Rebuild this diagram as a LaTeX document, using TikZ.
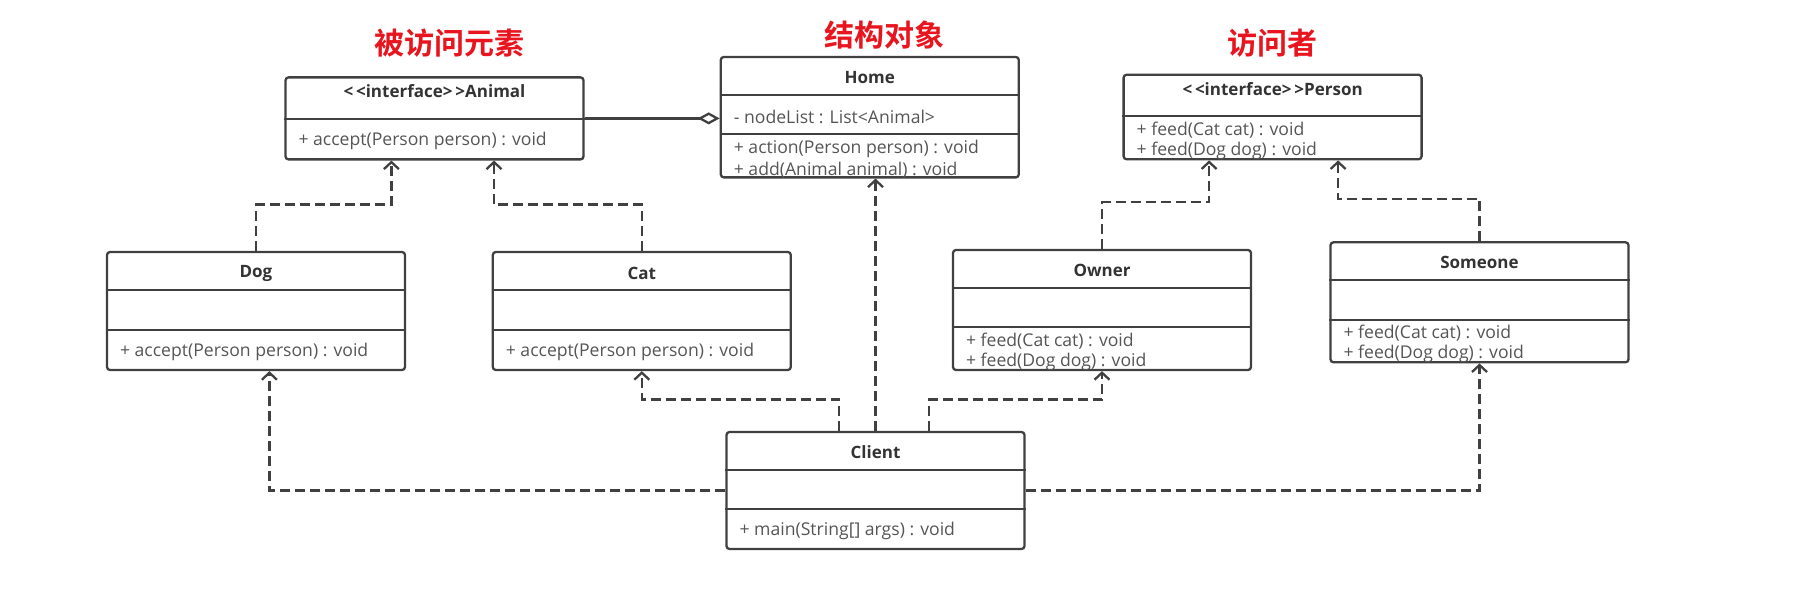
\documentclass[tikz,border=0pt]{standalone}
\usepackage{fontspec}
\setmainfont{Open Sans}
\newfontfamily\cjkfont[BoldFont={Noto Sans CJK SC Bold}]{Noto Sans CJK SC}
\usepackage{tikz}
\usetikzlibrary{arrows.meta}

\definecolor{umlline}{HTML}{404040}
\definecolor{umltext}{HTML}{555555}
\definecolor{umlhead}{HTML}{333333}
\definecolor{titlered}{HTML}{E8141E}

\tikzset{
	classbox/.style={draw=umlline, line width=2.3pt, rounded corners=3pt, minimum width=298pt, inner sep=0pt},
	sepline/.style={draw=umlline, line width=2pt},
	classname/.style={font=\fontsize{17}{20}\selectfont\bfseries, text=umlhead, inner sep=0pt},
	member/.style={font=\fontsize{17.6}{20}\selectfont, text=umltext, inner sep=0pt, anchor=west},
	realize/.style={draw=umlline, line width=2.3pt, dash pattern=on 10pt off 5pt, -{Straight Barb[length=7pt,width=15pt]}},
	aggregate/.style={draw=umlline, line width=2.3pt, -{Diamond[open,length=22pt,width=12pt]}},
	bigtitle/.style={font=\cjkfont\bfseries\fontsize{30}{34}\selectfont, text=titlered, inner sep=0pt}
}

\begin{document}
\begin{tikzpicture}[x=1pt,y=1pt]
	 \useasboundingbox (0,0) rectangle (1805,592);
	 % titles
	 \node[bigtitle] (elemtitle) at (449,549) {被访问元素};
	 \node[bigtitle] (structtitle) at (884,557) {结构对象};
	 \node[bigtitle] (visitortitle) at (1272,549.3) {访问者};
	 % class boxes
	 \node[classbox, minimum height=82pt] (animal) at (434.5,473.6) {};
	 \node[classbox, minimum height=120.4pt] (home) at (869.8,474.8) {};
	 \node[classbox, minimum height=84.5pt] (person) at (1272.6,475) {};
	 \node[classbox, minimum height=118pt] (dog) at (256,281) {};
	 \node[classbox, minimum height=118pt] (cat) at (641.8,281) {};
	 \node[classbox, minimum height=120pt] (owner) at (1102,282) {};
	 \node[classbox, minimum height=120pt] (someone) at (1479.5,289.7) {};
	 \node[classbox, minimum height=117pt] (client) at (875.5,101.5) {};
	 % compartments
	 \draw[sepline] ([yshift=-42.6pt]animal.north west) -- ([yshift=-42.6pt]animal.north east);
	 \draw[sepline] ([yshift=-39.3pt]home.north west) -- ([yshift=-39.3pt]home.north east);
	 \draw[sepline] ([yshift=-77.8pt]home.north west) -- ([yshift=-77.8pt]home.north east);
	 \draw[sepline] ([yshift=-42.2pt]person.north west) -- ([yshift=-42.2pt]person.north east);
	 \draw[sepline] ([yshift=-39.5pt]dog.north west) -- ([yshift=-39.5pt]dog.north east);
	 \draw[sepline] ([yshift=-78.7pt]dog.north west) -- ([yshift=-78.7pt]dog.north east);
	 \draw[sepline] ([yshift=-39.5pt]cat.north west) -- ([yshift=-39.5pt]cat.north east);
	 \draw[sepline] ([yshift=-78.7pt]cat.north west) -- ([yshift=-78.7pt]cat.north east);
	 \draw[sepline] ([yshift=-39.6pt]owner.north west) -- ([yshift=-39.6pt]owner.north east);
	 \draw[sepline] ([yshift=-78.5pt]owner.north west) -- ([yshift=-78.5pt]owner.north east);
	 \draw[sepline] ([yshift=-38.7pt]someone.north west) -- ([yshift=-38.7pt]someone.north east);
	 \draw[sepline] ([yshift=-78.4pt]someone.north west) -- ([yshift=-78.4pt]someone.north east);
	 \draw[sepline] ([yshift=-39pt]client.north west) -- ([yshift=-39pt]client.north east);
	 \draw[sepline] ([yshift=-78pt]client.north west) -- ([yshift=-78pt]client.north east);
	 % class names
	 \node[classname] (animalname) at ([yshift=-15pt]animal.north) {<{}\,<interface>{}\,>Animal};
	 \node[classname] (homename) at ([yshift=-22pt]home.north) {Home};
	 \node[classname] (personname) at ([yshift=-15pt]person.north) {<{}\,<interface>{}\,>Person};
	 \node[classname] (dogname) at ([yshift=-23pt]dog.north) {Dog};
	 \node[classname] (catname) at ([yshift=-23pt]cat.north) {Cat};
	 \node[classname] (ownername) at ([yshift=-22pt]owner.north) {Owner};
	 \node[classname] (someonename) at ([yshift=-21.7pt]someone.north) {Someone};
	 \node[classname] (clientname) at ([yshift=-21pt]client.north) {Client};
	 % members
	 \node[member] (animalm1) at ([xshift=14pt,yshift=-64.6pt]animal.north west) {+ accept(Person person) : void};
	 \node[member] (homea1) at ([xshift=14pt,yshift=-61pt]home.north west) {- nodeList : List<Animal>};
	 \node[member] (homem1) at ([xshift=14pt,yshift=-93pt]home.north west) {+ action(Person person) : void};
	 \node[member] (homem2) at ([xshift=14pt,yshift=-114pt]home.north west) {+ add(Animal animal) : void};
	 \node[member] (personm1) at ([xshift=14pt,yshift=-56.2pt]person.north west) {+ feed(Cat cat) : void};
	 \node[member] (personm2) at ([xshift=14pt,yshift=-77.5pt]person.north west) {+ feed(Dog dog) : void};
	 \node[member] (dogm1) at ([xshift=14pt,yshift=-101pt]dog.north west) {+ accept(Person person) : void};
	 \node[member] (catm1) at ([xshift=14pt,yshift=-101pt]cat.north west) {+ accept(Person person) : void};
	 \node[member] (ownerm1) at ([xshift=14pt,yshift=-92.5pt]owner.north west) {+ feed(Cat cat) : void};
	 \node[member] (ownerm2) at ([xshift=14pt,yshift=-113.5pt]owner.north west) {+ feed(Dog dog) : void};
	 \node[member] (someonem1) at ([xshift=14pt,yshift=-91.7pt]someone.north west) {+ feed(Cat cat) : void};
	 \node[member] (someonem2) at ([xshift=14pt,yshift=-113pt]someone.north west) {+ feed(Dog dog) : void};
	 \node[member] (clientm1) at ([xshift=14pt,yshift=-100pt]client.north west) {+ main(String[] args) : void};
	 % connectors
	 \coordinate (animaldog) at ([xshift=-43.1pt]animal.south);
	 \coordinate (animalcat) at ([xshift=59.5pt]animal.south);
	 \coordinate (personowner) at ([xshift=-63.5pt]person.south);
	 \coordinate (personsomeone) at ([xshift=65.5pt]person.south);
	 \draw[aggregate] (animal.east) -- (animal.east -| home.west);
	 \draw[realize] (dog.north) -- ++(0,46.2) -| (animaldog);
	 \draw[realize] (cat.north) -- ++(0,46.2) -| (animalcat);
	 \draw[realize] (owner.north) -- ++(0,46.5) -| (personowner);
	 \draw[realize] (someone.north) -- ++(0,42.3) -| (personsomeone);
	 \draw[realize] (client.north) -- (client.north |- home.south);
	 \draw[realize] ([xshift=-36.2pt]client.north) -- ++(0,31.3) -| (cat.south);
	 \draw[realize] ([xshift=53.8pt]client.north) -- ++(0,31.3) -| (owner.south);
	 \draw[realize] (client.west) -| ([xshift=13.4pt]dog.south);
	 \draw[realize] (client.east) -| (someone.south);
\end{tikzpicture}
\end{document}
